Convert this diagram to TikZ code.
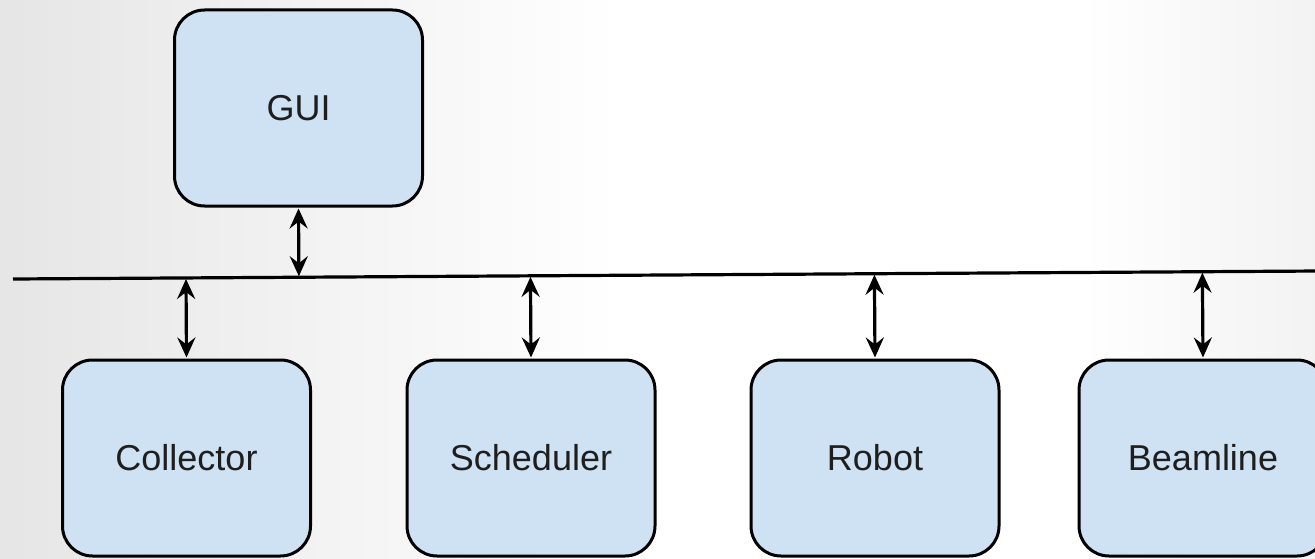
\documentclass[tikz,border=0pt]{standalone}
\usepackage{fontspec}
\setmainfont{Liberation Sans}
\usepackage{tikz}
\usetikzlibrary{positioning,calc,arrows.meta}

\definecolor{boxfill}{HTML}{CFE2F3}
\definecolor{labelgray}{HTML}{1E1E1E}

\begin{document}
\begin{tikzpicture}[x=1pt,y=-1pt,on grid,
  module/.style={draw=black,line width=3pt,fill=boxfill,rounded corners=30pt,
    minimum width=248pt,minimum height=196pt,inner sep=0pt,
    text=labelgray,font=\fontsize{36}{40}\selectfont},
  link/.style={line width=3.2pt,{Stealth[length=20pt,width=18pt,inset=7pt]}-{Stealth[length=20pt,width=18pt,inset=7pt]},shorten <=1pt,shorten >=1pt}]
 % background
 \fill[white] (0,0) rectangle (1315,559);
 \shade[left color=black!10,right color=white] (0,0) rectangle (620,559);
 \shade[left color=white,right color=black!5] (1080,0) rectangle (1315,559);
 \clip (0,0) rectangle (1315,559);
 \useasboundingbox (0,0) rectangle (1315,559);
 % bus
 \coordinate (busL) at (13,279);
 \coordinate (busR) at (1320,271);
 \draw[line width=3.2pt] (busL) -- (busR);
 % modules
 \node[module] (gui) at (298.5,108) {GUI};
 \node[module] (col) at (186.5,458) {Collector};
 \node[module] (sched)[right=344.5pt of col] {Scheduler};
 \node[module] (robot)[right=344pt of sched] {Robot};
 \node[module] (beam)[right=328pt of robot] {Beamline};
 % links to the bus
 \draw[link] (gui.south) -- ($(busL)!(gui.south)!(busR)$);
 \foreach \m in {col,sched,robot,beam}
  \draw[link] ($(busL)!(\m.north)!(busR)$) -- (\m.north);
\end{tikzpicture}
\end{document}
